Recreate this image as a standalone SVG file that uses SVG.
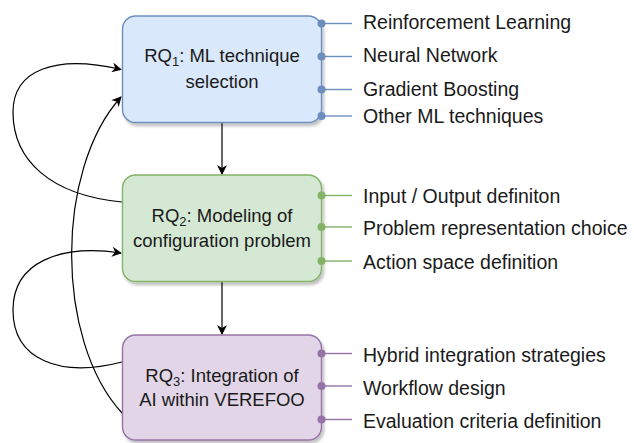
<svg xmlns="http://www.w3.org/2000/svg" width="634" height="443" viewBox="0 0 634 443">
<style>
  text { font-family: "Liberation Sans", Arial, Helvetica, sans-serif; fill: #1a1a1a; }
  .lbl { font-size: 18.5px; text-anchor: middle; }
  .sub { font-size: 13px; }
  .side { font-size: 19.5px; }
  .edge { fill: none; stroke: #000; stroke-width: 1.2; }
  .b1 { fill: #dae8fc; stroke: #6c8ebf; stroke-width: 1.4; }
  .b2 { fill: #d5e8d4; stroke: #82b366; stroke-width: 1.4; }
  .b3 { fill: #e1d5e7; stroke: #9673a6; stroke-width: 1.4; }
  .l1 { stroke: #6c8ebf; stroke-width: 1.4; }
  .l2 { stroke: #82b366; stroke-width: 1.4; }
  .l3 { stroke: #9673a6; stroke-width: 1.4; }
  .d1 { fill: #6c8ebf; }
  .d2 { fill: #82b366; }
  .d3 { fill: #9673a6; }
</style>
<defs>
  <marker id="arr" viewBox="0 0 10 10" refX="9" refY="5" markerWidth="11" markerHeight="10" markerUnits="userSpaceOnUse" orient="auto">
    <path d="M0,0 L10,5 L0,10 L3,5 Z" fill="#000"/>
  </marker>
  <filter id="sh" x="-10%" y="-10%" width="125%" height="130%">
    <feGaussianBlur in="SourceAlpha" stdDeviation="1.5"/>
    <feOffset dx="2" dy="3" result="o"/>
    <feComponentTransfer><feFuncA type="linear" slope="0.25"/></feComponentTransfer>
    <feMerge><feMergeNode/><feMergeNode in="SourceGraphic"/></feMerge>
  </filter>
</defs>
<rect width="634" height="443" fill="#ffffff"/>

<g id="connectors">
  <line class="edge" x1="222" y1="123" x2="222" y2="174" marker-end="url(#arr)"/>
  <line class="edge" x1="222" y1="282" x2="222" y2="334" marker-end="url(#arr)"/>
  <path class="edge" d="M 122 202 C 50 195, 13 160, 13 112 C 13 70, 55 54, 121 69.5" marker-end="url(#arr)"/>
  <path class="edge" d="M 122 413 C 55 340, 55 170, 121 97" marker-end="url(#arr)"/>
  <path class="edge" d="M 122 362 C 60 378, 13 360, 13 310 C 13 262, 60 244, 121 253" marker-end="url(#arr)"/>
</g>

<g id="rq1">
  <rect class="b1" x="122.5" y="16" width="199" height="106.5" rx="13" filter="url(#sh)"/>
  <text class="lbl" x="222" y="62">RQ<tspan class="sub" dy="4">1</tspan><tspan dy="-4">: ML technique</tspan></text>
  <text class="lbl" x="222" y="88">selection</text>
</g>

<g id="rq2">
  <rect class="b2" x="122.5" y="175" width="199" height="106.5" rx="13" filter="url(#sh)"/>
  <text class="lbl" x="222" y="221.5">RQ<tspan class="sub" dy="4">2</tspan><tspan dy="-4">: Modeling of</tspan></text>
  <text class="lbl" x="222" y="247">configuration problem</text>
</g>

<g id="rq3">
  <rect class="b3" x="122.5" y="335" width="199" height="105" rx="13" filter="url(#sh)"/>
  <text class="lbl" x="222" y="382">RQ<tspan class="sub" dy="4">3</tspan><tspan dy="-4">: Integration of</tspan></text>
  <text class="lbl" x="222" y="406">AI within VEREFOO</text>
</g>

<g id="rq1-items">
  <line class="l1" x1="321.5" y1="23.5" x2="352" y2="23.5"/><circle class="d1" cx="321.5" cy="23.5" r="4"/>
  <line class="l1" x1="321.5" y1="56.5" x2="352" y2="56.5"/><circle class="d1" cx="321.5" cy="56.5" r="4"/>
  <line class="l1" x1="321.5" y1="89.5" x2="352" y2="89.5"/><circle class="d1" cx="321.5" cy="89.5" r="4"/>
  <line class="l1" x1="321.5" y1="116" x2="352" y2="116"/><circle class="d1" cx="321.5" cy="116" r="4"/>
  <text class="side" x="363" y="29">Reinforcement Learning</text>
  <text class="side" x="363" y="62">Neural Network</text>
  <text class="side" x="363" y="96">Gradient Boosting</text>
  <text class="side" x="363" y="122.5">Other ML techniques</text>
</g>

<g id="rq2-items">
  <line class="l2" x1="321.5" y1="195.5" x2="352" y2="195.5"/><circle class="d2" cx="321.5" cy="195.5" r="4"/>
  <line class="l2" x1="321.5" y1="227" x2="352" y2="227"/><circle class="d2" cx="321.5" cy="227" r="4"/>
  <line class="l2" x1="321.5" y1="261" x2="352" y2="261"/><circle class="d2" cx="321.5" cy="261" r="4"/>
  <text class="side" x="363" y="202.5">Input / Output definiton</text>
  <text class="side" x="363" y="235">Problem representation choice</text>
  <text class="side" x="363" y="269">Action space definition</text>
</g>

<g id="rq3-items">
  <line class="l3" x1="321.5" y1="353.5" x2="352" y2="353.5"/><circle class="d3" cx="321.5" cy="353.5" r="4"/>
  <line class="l3" x1="321.5" y1="386" x2="352" y2="386"/><circle class="d3" cx="321.5" cy="386" r="4"/>
  <line class="l3" x1="321.5" y1="419.5" x2="352" y2="419.5"/><circle class="d3" cx="321.5" cy="419.5" r="4"/>
  <text class="side" x="363" y="361.5">Hybrid integration strategies</text>
  <text class="side" x="363" y="394.5">Workflow design</text>
  <text class="side" x="363" y="427.5">Evaluation criteria definition</text>
</g>
</svg>
